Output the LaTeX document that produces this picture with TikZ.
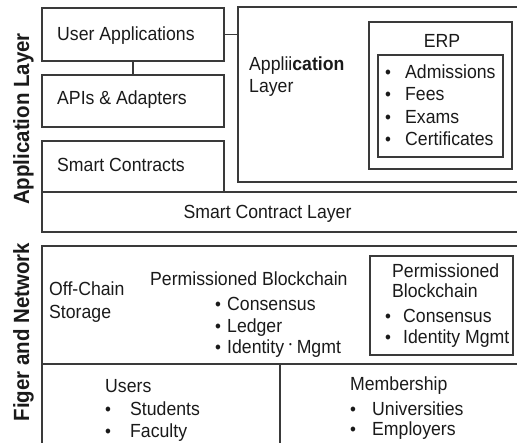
\documentclass[tikz,border=0pt]{standalone}
\usepackage{fontspec}
\setmainfont[FakeStretch=0.93]{Liberation Sans}
\definecolor{lc}{HTML}{3A3A3A}
\definecolor{tc}{HTML}{1A1A1A}
\begin{document}
\begin{tikzpicture}[x=1pt,y=-1pt,
  boxn/.style={draw=lc, line width=1.3pt, rectangle, inner sep=0pt, outer sep=0pt, anchor=north west},
  conn/.style={draw=lc, line width=1.2pt},
  txt/.style={anchor=base west, inner sep=0pt, text=tc, font=\fontsize{19}{22}\selectfont},
  ctxt/.style={txt, anchor=base},
  side/.style={anchor=base, inner sep=0pt, rotate=90, text=tc, font=\fontsize{22}{26}\selectfont\bfseries}]
\useasboundingbox (0,0) rectangle (517,442);
\clip (0,0) rectangle (517,442);
\newcommand\bul[2]{\makebox[#1pt][l]{\scalebox{0.95}{\textbullet}}#2}
% application layer boxes
\node[boxn, minimum width=182pt, minimum height=53pt] (ua) at (42,8) {};
\node[boxn, minimum width=182pt, minimum height=52pt] (api) at (42,75) {};
\node[boxn, minimum width=182pt, minimum height=51pt] (sc) at (42,141) {};
\node[boxn, minimum width=292pt, minimum height=175pt] (al) at (238,7) {};
\node[boxn, minimum width=143pt, minimum height=147pt] (erp) at (369,22) {};
\node[boxn, minimum width=125pt, minimum height=102pt] (erpin) at (378,55) {};
\node[boxn, minimum width=488pt, minimum height=40pt] (scl) at (42,192) {};
% network boxes
\node[boxn, minimum width=488pt, minimum height=118pt] (chain) at (42,246) {};
\node[boxn, minimum width=488pt, minimum height=100pt] (memb) at (42,364) {};
\node[boxn, minimum width=143pt, minimum height=99pt] (pb2) at (370,256) {};
\coordinate (vtop) at (280,364);
\coordinate (vbot) at (280,470);
\draw[conn] (vtop) -- (vbot);
% connectors
\draw[conn] (ua.south) -- (api.north);
\draw[conn] (ua.east) -- (ua.east -| al.west);
% texts
\node[txt] (tua) at (57,40) {User Applications};
\node[txt] (tapi) at (57,104) {APIs \& Adapters};
\node[txt] (tsc) at (57,171) {Smart Contracts};
\node[ctxt] (tscl) at (267.5,218) {Smart Contract Layer};
\node[txt] (tal1) at (249,70) {Applii\textbf{cation}};
\node[txt] (tal2) at (249,92) {Layer};
\node[ctxt] (terp) at (442,47) {ERP};
\node[txt] (e1) at (385,78) {\bul{20}{Admissions}};
\node[txt] (e2) at (385,100) {\bul{20}{Fees}};
\node[txt] (e3) at (385,123) {\bul{20}{Exams}};
\node[txt] (e4) at (385,145) {\bul{20}{Certificates}};
\node[txt] (toff1) at (49,295) {Off-Chain};
\node[txt] (toff2) at (49,318) {Storage};
\node[txt] (tpb) at (150,285) {Permissioned Blockchain};
\node[txt] (p1) at (215,310) {\bul{12}{Consensus}};
\node[txt] (p2) at (215,332) {\bul{12}{Ledger}};
\node[txt] (p3) at (215,353) {\bul{12}{Identity \raisebox{0.55ex}{\scalebox{0.45}{\textbullet}} Mgmt}};
\node[txt] (tpb2a) at (392,277) {Permissioned};
\node[txt] (tpb2b) at (392,297) {Blockchain};
\node[txt] (q1) at (385,322) {\bul{18}{Consensus}};
\node[txt] (q2) at (385,343) {\bul{18}{Identity Mgmt}};
\node[txt] (tusers) at (105,392) {Users};
\node[txt] (u1) at (105,415) {\bul{25}{Students}};
\node[txt] (u2) at (105,437) {\bul{25}{Faculty}};
\node[txt] (tmem) at (350,390) {Membership};
\node[txt] (m1) at (350,415) {\bul{22}{Universities}};
\node[txt] (m2) at (350,435) {\bul{22}{Employers}};
% side labels
\node[side] (lapp) at (29,119) {Application Layer};
\node[side] (lnet) at (29,332) {Figer and Network};
\end{tikzpicture}
\end{document}
